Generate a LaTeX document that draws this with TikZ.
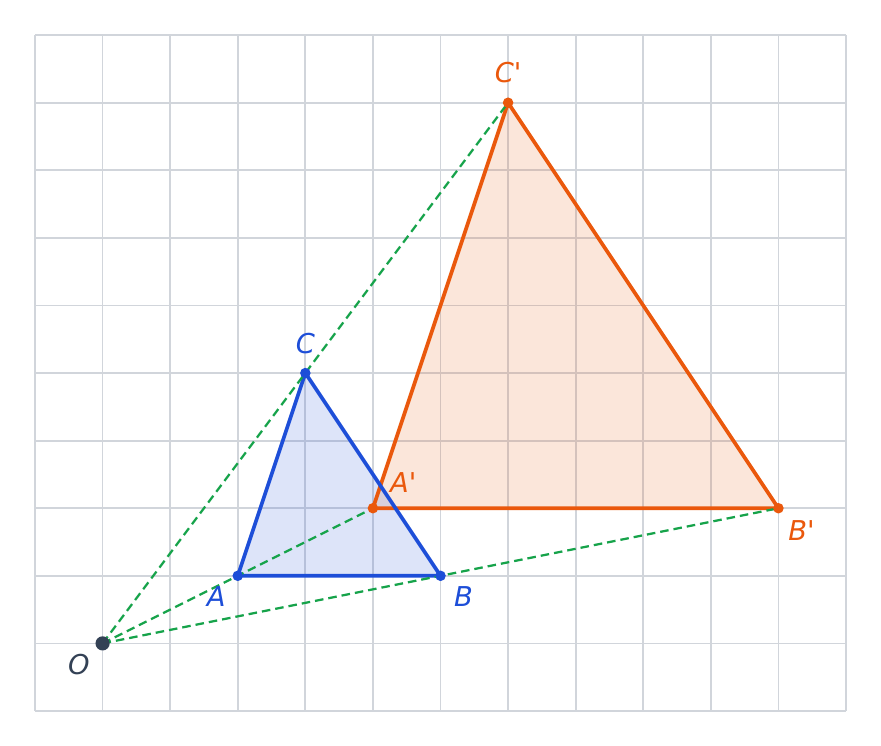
\documentclass[tikz,border=0pt]{standalone}
\usepackage{fontspec}
\usetikzlibrary{calc}
\setmainfont{DejaVu Sans}
\newfontfamily\lblfont{DejaVu Sans Oblique}
\definecolor{gridc}{HTML}{D1D5DB}
\definecolor{blu}{HTML}{1D4ED8}
\definecolor{ora}{HTML}{EA580C}
\definecolor{grn}{HTML}{16A34A}
\definecolor{slate}{HTML}{334155}
\begin{document}
\begin{tikzpicture}[x=1cm,y=1cm,
  edgeb/.style={draw=blu,line width=1.55pt,line join=round},
  edgeo/.style={draw=ora,line width=1.55pt,line join=round},
  ray/.style={draw=grn,line width=0.95pt,dash pattern=on 3.6pt off 2.1pt},
  lbl/.style={font=\lblfont\fontsize{11.5}{12}\selectfont,inner sep=0pt}]
\useasboundingbox (-0.518,-0.518) rectangle (12.518,10.52);
\fill[white] (-0.518,-0.518) rectangle (12.518,10.52);
\draw[gridc,line width=0.75pt] (0,0) grid (12,10);
\coordinate (O) at (1,1);
\coordinate (A) at (3,2);
\coordinate (B) at (6,2);
\coordinate (C) at (4,5);
\coordinate (A1) at (5,3);
\coordinate (B1) at (11,3);
\coordinate (C1) at (7,9);
\fill[ora,opacity=0.15] (A1) -- (B1) -- (C1) -- cycle;
\fill[blu,opacity=0.15] (A) -- (B) -- (C) -- cycle;
\path[edgeo] (A1) -- (B1) -- (C1) -- cycle;
\path[edgeb] (A) -- (B) -- (C) -- cycle;
\path[ray] (O) -- (A1);
\path[ray] (O) -- (B1);
\path[ray] (O) -- (C1);
\fill[blu] (A) circle (0.078) (B) circle (0.078) (C) circle (0.078);
\fill[ora] (A1) circle (0.078) (B1) circle (0.078) (C1) circle (0.078);
\fill[slate] (O) circle (0.105);
\node[lbl,text=blu] (lA) at ($(A)+(-0.32,-0.31)$) {A};
\node[lbl,text=blu] (lB) at ($(B)+(0.34,-0.31)$) {B};
\node[lbl,text=blu] (lC) at ($(C)+(0,0.43)$) {C};
\node[lbl,text=ora] (lA1) at ($(A1)+(0.45,0.38)$) {A'};
\node[lbl,text=ora] (lB1) at ($(B1)+(0.34,-0.33)$) {B'};
\node[lbl,text=ora] (lC1) at ($(C1)+(0,0.44)$) {C'};
\node[lbl,text=slate] (lO) at ($(O)+(-0.35,-0.31)$) {O};
\end{tikzpicture}
\end{document}
